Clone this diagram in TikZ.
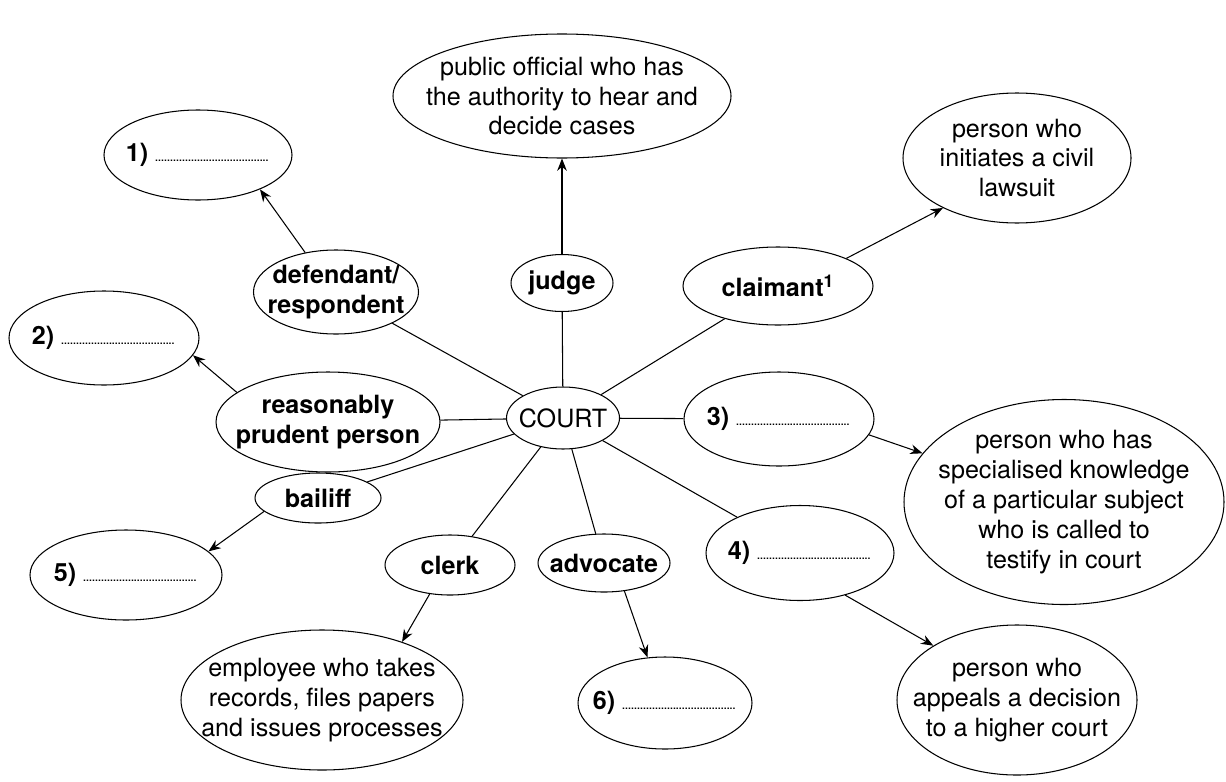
\documentclass[tikz,border=0pt]{standalone}
\usepackage{fontspec}
\setmainfont{TeX Gyre Heros}
\usetikzlibrary{arrows.meta,shapes.geometric}
\newcommand{\gap}{\makebox[2.3cm]{\fontsize{8}{8}\mdseries\selectfont\leaders\hbox to 1.7pt{\hss.\hss}\hfill}}

\begin{document}
\begin{tikzpicture}[
  x=0.02cm, y=-0.02cm,
  font=\fontsize{14.3}{17}\selectfont, >={Stealth[length=7pt,width=5.5pt]},
  oval/.style 2 args={ellipse, draw, line width=0.6pt, inner sep=0pt, minimum width=#1*0.02cm, minimum height=#2*0.02cm},
  txt/.style={align=center, inner sep=0pt},
  term/.style={txt, font=\fontsize{14.3}{17}\selectfont\bfseries},
  spoke/.style={line width=0.6pt}, link/.style={->, line width=0.6pt}]
\useasboundingbox (0,0) rectangle (1226,781);
% centre and terms
\node[oval={113}{62}, label={[txt]center:COURT}] (court) at (563,418) {};
\node[oval={102}{57}, label={[term]center:judge}] (judge) at (562,283) {};
\node[oval={165}{84}, label={[term]center:{defendant/\\respondent}}] (defendant) at (336,292) {};
\node[oval={190}{78}, label={[term]center:{claimant\textsuperscript{1}}}] (claimant) at (778,286) {};
\node[oval={224}{100}, label={[term]center:{reasonably\\prudent person}}] (prudent) at (328,422) {};
\node[oval={190}{94}, label={[term]center:{3)\ \gap}}] (q3) at (779,419) {};
\node[oval={126}{50}, label={[term]center:bailiff}] (bailiff) at (318,498) {};
\node[oval={130}{60}, label={[term]center:clerk}] (clerk) at (450,565) {};
\node[oval={132}{58}, label={[term]center:advocate}] (advocate) at (604,563) {};
\node[oval={188}{95}, label={[term]center:{4)\ \gap}}] (q4) at (800,553) {};
% definitions and blanks
\node[oval={338}{124}, label={[txt]center:{public official who has\\the authority to hear and\\decide cases}}] (judgedef) at (562,96) {};
\node[oval={188}{90}, label={[term]center:{1)\ \gap}}] (q1) at (198,155) {};
\node[oval={228}{130}, label={[txt]center:{person who\\initiates a civil\\lawsuit}}] (claimdef) at (1017,158) {};
\node[oval={190}{94}, label={[term]center:{2)\ \gap}}] (q2) at (104,338) {};
\node[oval={320}{205}, label={[txt]center:{person who has\\specialised knowledge\\of a particular subject\\who is called to\\testify in court}}] (expertdef) at (1064,502) {};
\node[oval={192}{90}, label={[term]center:{5)\ \gap}}] (q5) at (126,575) {};
\node[oval={282}{140}, label={[txt]center:{employee who takes\\records, files papers\\and issues processes}}] (clerkdef) at (322,700) {};
\node[oval={174}{92}, label={[term]center:{6)\ \gap}}] (q6) at (665,703) {};
\node[oval={240}{150}, label={[txt]center:{person who\\appeals a decision\\to a higher court}}] (appdef) at (1017,700) {};
\foreach \t in {judge,defendant,claimant,prudent,q3,bailiff,clerk,advocate,q4} \draw[spoke] (court) -- (\t);
\foreach \a/\b in {defendant.128/q1.-29, judge/judgedef, claimant.22/claimdef.214, prudent.162/q2.-11,
  q3.-10/expertdef.161, bailiff.194/q5.16, clerk.235/clerkdef.36, advocate.-54/q6.111, q4.-43/appdef.147}
  \draw[link] (\a) -- (\b);
\end{tikzpicture}
\end{document}
